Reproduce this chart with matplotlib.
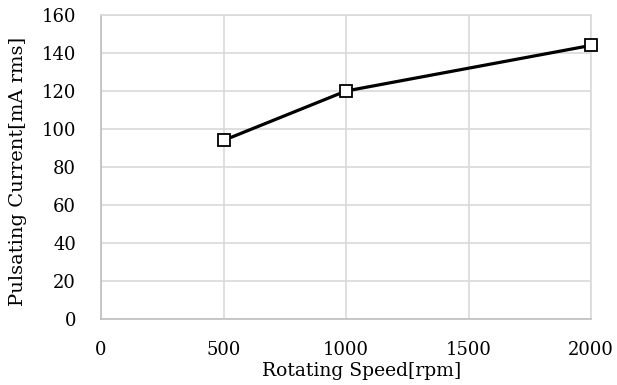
import matplotlib.pyplot as plt

speed = [500, 1000, 2000]
current = [94, 120, 144]
x_ticks = [0, 500, 1000, 1500, 2000]
y_ticks = [0, 20, 40, 60, 80, 100, 120, 140, 160]

plt.rcParams['font.family'] = ['DejaVu Serif']

fig = plt.figure(figsize=(6.17, 3.85), dpi=100)
ax = fig.add_axes([101 / 617, 1 - 319 / 385, 490 / 617, 304 / 385])

ax.plot(speed, current, color='black', linewidth=2.3, marker='s', markersize=8.5,
        markerfacecolor='white', markeredgecolor='black', markeredgewidth=1.3,
        zorder=3, clip_on=False)

ax.set_xlim(0, 2000)
ax.set_ylim(0, 160)
ax.set_xticks(x_ticks)
ax.set_yticks(y_ticks)
ax.grid(True, color='#d9d9d9', linewidth=1.2)
for s in ax.spines.values():
    s.set_color('#d9d9d9')
    s.set_linewidth(1.2)
ax.spines['left'].set_color('#bfbfbf')
ax.spines['bottom'].set_color('#bfbfbf')
ax.tick_params(length=0, labelsize=13)
ax.tick_params(axis='y', pad=18)
ax.tick_params(axis='x', pad=16)

ax.set_xlabel('Rotating Speed[rpm]', fontsize=13.5, va='center')
ax.xaxis.set_label_coords(0.531, -52 / 304)
ax.set_ylabel('Pulsating Current[mA rms]', fontsize=14, va='center')
ax.yaxis.set_label_coords(-83 / 490, 0.487)

fig.savefig('out.png', dpi=100)
